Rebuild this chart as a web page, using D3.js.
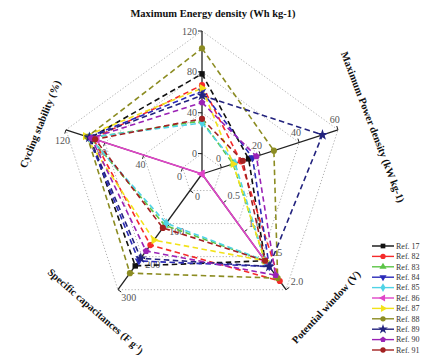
<!DOCTYPE html>
<html>
<head>
<meta charset="utf-8">
<script src="https://cdn.jsdelivr.net/npm/d3@7"></script>
<style>
  body { margin: 0; background: #fff; }
  svg { display: block; font-family: "Liberation Serif", "DejaVu Serif", serif; }
  .grid-ring { fill: none; stroke: #9a9a9a; stroke-width: 0.8; stroke-dasharray: 1.2,2; }
  .axis-line { stroke: #222; stroke-width: 1.3; }
  .tick-mark { stroke: #222; stroke-width: 1; }
  .tick-label { font-size: 10px; fill: #555; }
  .axis-title { font-size: 10.5px; font-weight: bold; fill: #111; }
  .series-line { fill: none; stroke-width: 1.6; }
  .legend-line { stroke-width: 1.4; }
  .legend-label { font-size: 8px; fill: #333; }
</style>
</head>
<body>
<div id="chart"></div>
<script>
// axes, clockwise from the top
const axisNames = ['Maximum Energy density (Wh kg-1)', 'Maximum Power density (kW kg-1)',
  'Potential window (V)', 'Specific capacitances (F g', 'Cycling stability (%)'];
const axisDomains = [[-20, 120], [-10, 60], [0, 2], [-50, 300], [-20, 120]];
const axisTicks = [[0, 40, 80, 120], [0, 20, 40, 60], [0.5, 1.0, 1.5, 2.0], [0, 100, 200, 300], [0, 40, 80, 120]];

const refNames = ['Ref. 17', 'Ref. 82', 'Ref. 83', 'Ref. 84', 'Ref. 85', 'Ref. 86',
  'Ref. 87', 'Ref. 88', 'Ref. 89', 'Ref. 90', 'Ref. 91'];
const refColors = ['#111111', '#f52a2a', '#5cc447', '#2b2bb8', '#4fd3e6', '#e045c8',
  '#f2e21a', '#8c8c22', '#23237e', '#9a22b5', '#a32020'];

// values per axis, one entry per reference (null = not reported)
const energyDensity    = [78, 67, 32, 61, 30, null, 64, 103, 57, 50, 34];
const powerDensity     = [14, 10, 6, 16, 7, null, 6, 27, 52, 18, 11];
const potentialWindow  = [1.5, 1.85, 1.5, 1.6, 1.5, 1.5, 1.5, 1.8, 1.6, 1.75, 1.5];
const specificCap      = [228, 165, 105, 213, 99, null, 150, 250, 205, 183, 113];
const cyclingStability = [95, 92, 95, 97, 96, 88, 100, 98, 96, 94, 90];

class RadarChart {

  constructor(_config) {
    this.config = {
      parentElement: _config.parentElement,
      containerWidth: _config.containerWidth || 432,
      containerHeight: _config.containerHeight || 363,
      center: _config.center || {x: 202, y: 174},
      radius: _config.radius || 143
    }
    this.initVis();
  }

  initVis() {
    let vis = this;

    vis.svg = d3.select(vis.config.parentElement).append('svg')
        .attr('width', vis.config.containerWidth)
        .attr('height', vis.config.containerHeight);

    vis.chart = vis.svg.append('g')
        .attr('transform', `translate(${vis.config.center.x},${vis.config.center.y})`);

    // one angle and one radial scale per axis
    vis.angles = axisNames.map((d, i) => (-90 + i * 72) * Math.PI / 180);
    vis.scales = axisDomains.map(dom => d3.scaleLinear().domain(dom).range([0, vis.config.radius]));

    vis.point = (i, v) => {
      const r = v == null ? 0 : vis.scales[i](v);
      return [r * Math.cos(vis.angles[i]), r * Math.sin(vis.angles[i])];
    };

    vis.symbols = [
      {type: d3.symbolSquare, rot: 0}, {type: d3.symbolCircle, rot: 0},
      {type: d3.symbolTriangle, rot: 0}, {type: d3.symbolTriangle, rot: 180},
      {type: d3.symbolDiamond, rot: 0}, {type: d3.symbolTriangle, rot: -90},
      {type: d3.symbolTriangle, rot: 90}, {type: d3.symbolCircle, rot: 0},
      {type: d3.symbolStar, rot: 0}, {type: symbolPentagon, rot: 0},
      {type: d3.symbolCircle, rot: 0}
    ];

    vis.updateVis();
  }

  updateVis() {
    let vis = this;
    const cols = [energyDensity, powerDensity, potentialWindow, specificCap, cyclingStability];
    vis.data = refNames.map((name, k) => ({
      name: name,
      color: refColors[k],
      k: k,
      values: cols.map(c => c[k])
    }));
    vis.renderVis();
  }

  renderVis() {
    let vis = this;

    // dotted pentagon rings at the first axis' ticks
    const ringRadii = axisTicks[0].map(t => vis.scales[0](t));
    vis.chart.selectAll('.grid-ring')
        .data(ringRadii)
      .join('polygon')
        .attr('class', 'grid-ring')
        .attr('points', r => vis.angles.map(a => [r * Math.cos(a), r * Math.sin(a)].join(',')).join(' '));

    // axes
    const axisG = vis.chart.selectAll('.axis')
        .data(axisNames)
      .join('g')
        .attr('class', 'axis');

    axisG.append('line')
        .attr('class', 'axis-line')
        .attr('x1', 0).attr('y1', 0)
        .attr('x2', (d, i) => vis.point(i, axisDomains[i][1])[0])
        .attr('y2', (d, i) => vis.point(i, axisDomains[i][1])[1]);

    axisG.each(function(d, i) {
      const a = vis.angles[i];
      const px = Math.cos(a - Math.PI / 2), py = Math.sin(a - Math.PI / 2);
      const fmt = i === 2 ? d3.format('.1f') : d3.format('d');
      const ticks = d3.select(this).selectAll('.tick')
          .data(axisTicks[i])
        .join('g')
          .attr('class', 'tick')
          .attr('transform', t => `translate(${vis.point(i, t)})`);
      ticks.append('line')
          .attr('class', 'tick-mark')
          .attr('x2', px * 4).attr('y2', py * 4);
      ticks.append('text')
          .attr('class', 'tick-label')
          .attr('text-anchor', 'middle')
          .attr('dy', '0.35em')
          .each(function(t) {
            const w = fmt(t).length * 5;
            const dist = 5 + w / 2 * Math.abs(px) + 4 * Math.abs(py);
            d3.select(this).attr('x', px * dist).attr('y', py * dist);
          })
          .text(t => fmt(t));
    });

    // series polygons
    const line = d3.line().curve(d3.curveLinearClosed);
    vis.chart.selectAll('.series-line')
        .data(vis.data)
      .join('path')
        .attr('class', 'series-line')
        .attr('stroke', d => d.color)
        .attr('stroke-dasharray', d => d.values.includes(null) ? null : '5.5,3.5')
        .attr('d', d => line(d.values.map((v, i) => vis.point(i, v))));

    vis.chart.selectAll('.series-marks')
        .data(vis.data)
      .join('g')
        .attr('class', 'series-marks')
        .selectAll('path')
        .data(d => d.values.map((v, i) => ({p: vis.point(i, v), s: d})))
      .join('path')
        .attr('fill', d => d.s.color)
        .attr('transform', d => `translate(${d.p}) rotate(${vis.symbols[d.s.k].rot})`)
        .attr('d', d => d3.symbol(vis.symbols[d.s.k].type, d.s.k === 8 ? 40 : 30)());

    // axis titles
    const titleLayout = [
      {x: 213, y: 13, rot: 0}, {x: 373, y: 127, rot: 69}, {x: 326, y: 307, rot: -47},
      {x: 96, y: 311, rot: 41}, {x: 40, y: 124, rot: -68}
    ];
    const titles = vis.svg.selectAll('.axis-title')
        .data(axisNames)
      .join('text')
        .attr('class', 'axis-title')
        .attr('text-anchor', 'middle')
        .attr('dy', '0.35em')
        .attr('transform', (d, i) => `translate(${titleLayout[i].x},${titleLayout[i].y}) rotate(${titleLayout[i].rot})`)
        .text(d => d);
    titles.filter((d, i) => i === 3).each(function() {
      const t = d3.select(this);
      t.append('tspan').attr('dy', '-0.4em').attr('font-size', '7px').text('-1');
      t.append('tspan').attr('dy', '0.4em').text(')');
    });

    // legend
    const legend = vis.svg.selectAll('.legend-item')
        .data(vis.data)
      .join('g')
        .attr('class', 'legend-item')
        .attr('transform', (d, k) => `translate(372,${246 + k * 10.4})`);
    legend.append('line')
        .attr('class', 'legend-line')
        .attr('stroke', d => d.color)
        .attr('x1', 0).attr('x2', 22);
    legend.append('path')
        .attr('fill', d => d.color)
        .attr('transform', d => `translate(11,0) rotate(${vis.symbols[d.k].rot})`)
        .attr('d', d => d3.symbol(vis.symbols[d.k].type, d.k === 8 ? 30 : 22)());
    legend.append('text')
        .attr('class', 'legend-label')
        .attr('x', 24)
        .attr('dy', '0.35em')
        .text(d => d.name);
  }
}

const symbolPentagon = {
  draw(context, size) {
    const r = Math.sqrt(size / 2.378);
    for (let i = 0; i < 5; i++) {
      const a = -Math.PI / 2 + i * 2 * Math.PI / 5;
      if (i === 0) context.moveTo(r * Math.cos(a), r * Math.sin(a));
      else context.lineTo(r * Math.cos(a), r * Math.sin(a));
    }
    context.closePath();
  }
};

const radar = new RadarChart({parentElement: '#chart'});
</script>
</body>
</html>
